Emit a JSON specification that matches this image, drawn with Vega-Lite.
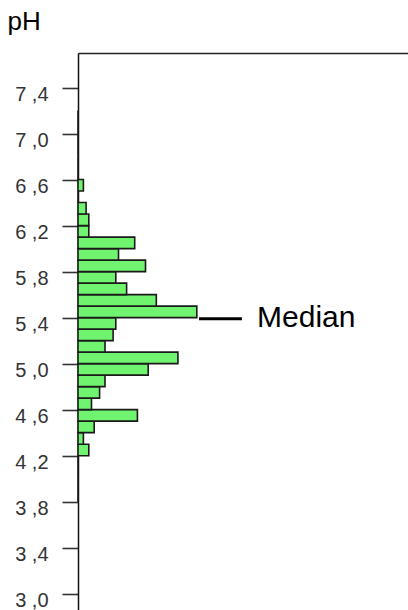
{
  "$schema": "https://vega.github.io/schema/vega-lite/v6.json",
  "autosize": "none",
  "padding": {"left": 78, "top": 53, "right": 0, "bottom": 0},
  "width": 330,
  "height": 558,
  "background": "white",
  "config": {"view": {"stroke": null}, "font": "Liberation Sans"},
  "layer": [
    {
      "data": {"values": [
        {"lo": 3.8, "hi": 3.9, "count": 0},
        {"lo": 3.9, "hi": 4.0, "count": 0},
        {"lo": 4.0, "hi": 4.1, "count": 0},
        {"lo": 4.1, "hi": 4.2, "count": 0},
        {"lo": 4.2, "hi": 4.3, "count": 4},
        {"lo": 4.3, "hi": 4.4, "count": 2},
        {"lo": 4.4, "hi": 4.5, "count": 6},
        {"lo": 4.5, "hi": 4.6, "count": 22},
        {"lo": 4.6, "hi": 4.7, "count": 5},
        {"lo": 4.7, "hi": 4.8, "count": 8},
        {"lo": 4.8, "hi": 4.9, "count": 10},
        {"lo": 4.9, "hi": 5.0, "count": 26},
        {"lo": 5.0, "hi": 5.1, "count": 37},
        {"lo": 5.1, "hi": 5.2, "count": 10},
        {"lo": 5.2, "hi": 5.3, "count": 13},
        {"lo": 5.3, "hi": 5.4, "count": 14},
        {"lo": 5.4, "hi": 5.5, "count": 44},
        {"lo": 5.5, "hi": 5.6, "count": 29},
        {"lo": 5.6, "hi": 5.7, "count": 18},
        {"lo": 5.7, "hi": 5.8, "count": 14},
        {"lo": 5.8, "hi": 5.9, "count": 25},
        {"lo": 5.9, "hi": 6.0, "count": 15},
        {"lo": 6.0, "hi": 6.1, "count": 21},
        {"lo": 6.1, "hi": 6.2, "count": 4},
        {"lo": 6.2, "hi": 6.3, "count": 4},
        {"lo": 6.3, "hi": 6.4, "count": 3},
        {"lo": 6.4, "hi": 6.5, "count": 0},
        {"lo": 6.5, "hi": 6.6, "count": 2},
        {"lo": 6.6, "hi": 6.7, "count": 0},
        {"lo": 6.7, "hi": 6.8, "count": 0},
        {"lo": 6.8, "hi": 6.9, "count": 0},
        {"lo": 6.9, "hi": 7.0, "count": 0},
        {"lo": 7.0, "hi": 7.1, "count": 0},
        {"lo": 7.1, "hi": 7.2, "count": 0}
      ]},
      "mark": {"type": "bar", "fill": "#70f470", "stroke": "#1a1a1a", "strokeWidth": 1.6},
      "encoding": {
        "x": {"field": "count", "type": "quantitative",
          "scale": {"domain": [0, 122.2], "nice": false, "zero": true},
          "axis": {"orient": "top", "domain": true, "domainColor": "#222", "domainWidth": 1.5, "ticks": false, "labels": false, "grid": false, "title": null}},
        "x2": {"datum": 0},
        "y": {"field": "lo", "type": "quantitative",
          "scale": {"domain": [2.85, 7.7], "nice": false, "zero": false},
          "axis": {
            "values": [3.0, 3.2, 3.4, 3.6, 3.8, 4.0, 4.2, 4.4, 4.6, 4.8, 5.0, 5.2, 5.4, 5.6, 5.8, 6.0, 6.2, 6.4, 6.6, 6.8, 7.0, 7.2, 7.4, 7.6],
            "labelExpr": "(round(datum.value*10) - 30) % 4 == 0 ? replace(format(datum.value, '.1f'), '.', ' ,') : ''",
            "grid": false,
            "domain": true, "domainColor": "#111", "domainWidth": 1.5,
            "ticks": true, "tickColor": "#333", "tickWidth": 1.6, "tickSize": 16,
            "labelFont": "Liberation Sans", "labelFontSize": 20, "labelColor": "#333",
            "labelPadding": 14, "labelOffset": 7, "labelBaseline": "middle",
            "labelOverlap": false, "labelBound": false, "labelFlush": false,
            "title": "pH", "titleAngle": 0, "titleAlign": "left", "titleBaseline": "alphabetic",
            "titleX": -71, "titleY": -24, "titleFont": "Liberation Sans", "titleFontSize": 26,
            "titleFontWeight": "normal", "titleColor": "#000"
          }},
        "y2": {"field": "hi"}
      }
    },
    {
      "data": {"values": [{"start": 44.8, "end": 60.7, "median": 5.39}]},
      "mark": {"type": "rule", "color": "#000", "strokeWidth": 3},
      "encoding": {
        "x": {"field": "start", "type": "quantitative"},
        "x2": {"field": "end"},
        "y": {"field": "median", "type": "quantitative"}
      }
    },
    {
      "data": {"values": [{"label": "Median", "x": 66.3, "y": 5.32}]},
      "mark": {"type": "text", "align": "left", "baseline": "alphabetic", "fontSize": 30, "font": "Liberation Sans", "color": "#000"},
      "encoding": {
        "x": {"field": "x", "type": "quantitative"},
        "y": {"field": "y", "type": "quantitative"},
        "text": {"field": "label"}
      }
    }
  ]
}
